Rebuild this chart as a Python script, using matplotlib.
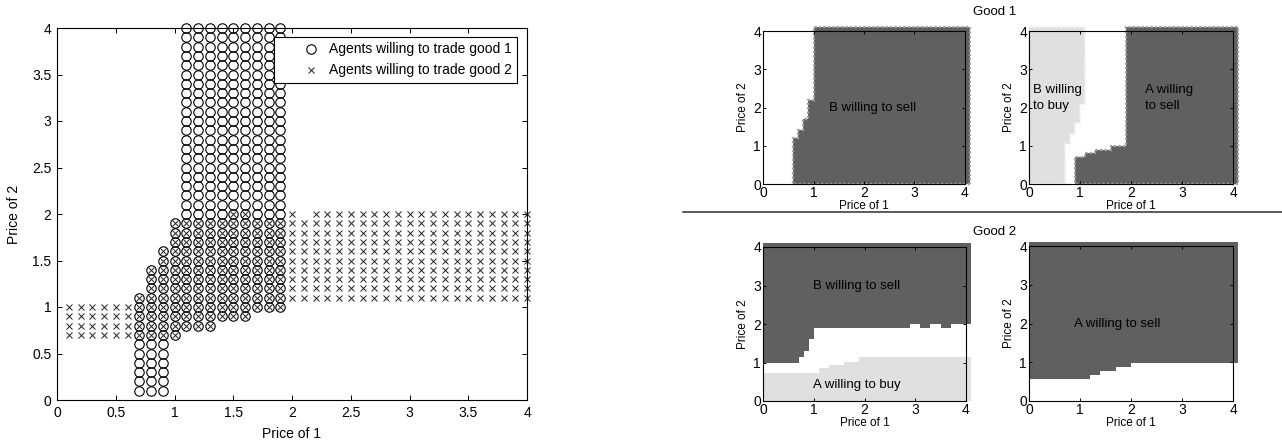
import numpy as np
import matplotlib.pyplot as plt
from matplotlib.lines import Line2D

plt.rcParams['font.family'] = ['Liberation Sans', 'DejaVu Sans']

# ---- left panel: agents willing to trade (one column per price of 1) ----
g1_x = [0.7, 0.8, 0.9, 1.0, 1.1, 1.2, 1.3, 1.4, 1.5, 1.6, 1.7, 1.8, 1.9]
g1_lo = [0.1, 0.1, 0.1, 0.7, 0.8, 0.8, 0.8, 0.9, 0.9, 0.9, 1.0, 1.0, 1.0]
g1_hi = [1.1, 1.4, 1.6, 1.9, 4.0, 4.0, 4.0, 4.0, 4.0, 4.0, 4.0, 4.0, 4.0]

g2_x = [0.1, 0.2, 0.3, 0.4, 0.5, 0.6, 0.7, 0.8, 0.9, 1.0,
        1.1, 1.2, 1.3, 1.4, 1.5, 1.6, 1.7, 1.8, 1.9, 2.0,
        2.1, 2.2, 2.3, 2.4, 2.5, 2.6, 2.7, 2.8, 2.9, 3.0,
        3.1, 3.2, 3.3, 3.4, 3.5, 3.6, 3.7, 3.8, 3.9, 4.0]
g2_lo = [0.7] * 10 + [0.8] * 3 + [0.9] * 3 + [1.0] * 3 + [1.1] * 21
g2_hi = [1.0] * 6 + [1.1, 1.4, 1.6, 1.9] + [1.9] * 4 + [2.0, 2.0] + [1.9] * 3 + [2.0, 1.9] + [2.0] * 19

left_ticks = [0, 0.5, 1, 1.5, 2, 2.5, 3, 3.5, 4]
left_ticklabels = ['0', '0.5', '1', '1.5', '2', '2.5', '3', '3.5', '4']

# ---- right panels: step boundaries of the regions ----
# Good 1, B willing to sell: left edge for each band of price 2
g1B_sell_y = [0, 1.2, 1.4, 1.7, 2.2, 4.1]
g1B_sell_x = [0.6, 0.7, 0.8, 0.9, 1.0]
# Good 1, B willing to buy: right edge
g1B_buy_y = [0, 1.05, 1.3, 1.6, 2.1, 4.1]
g1B_buy_x = [0.7, 0.8, 0.9, 1.0, 1.1]
# Good 1, A willing to sell: left edge
g1A_sell_y = [0, 0.7, 0.8, 0.9, 1.0, 4.1]
g1A_sell_x = [0.9, 1.1, 1.3, 1.6, 1.9]
# Good 2, B willing to sell: lower edge for each band of price 1
g2B_sell_x = [0, 0.7, 0.8, 0.9, 1.0, 2.9, 3.1, 3.3, 3.5, 3.7, 4.1]
g2B_sell_y = [1.0, 1.15, 1.3, 1.6, 1.9, 2.0, 1.9, 2.0, 1.9, 2.0]
# Good 2, A willing to buy: upper edge
g2A_buy_x = [0, 1.1, 1.3, 1.6, 1.9, 4.1]
g2A_buy_y = [0.73, 0.85, 0.93, 1.02, 1.13]
# Good 2, A willing to sell: lower edge
g2A_sell_x = [0, 1.2, 1.4, 1.7, 2.0, 4.1]
g2A_sell_y = [0.58, 0.67, 0.78, 0.87, 0.99]

DARK = '#606060'
LIGHT = '#e0e0e0'


def expand(xs, lo, hi):
    px, py = [], []
    for x, a, b in zip(xs, lo, hi):
        n = int(round((b - a) / 0.1)) + 1
        for k in range(n):
            px.append(x)
            py.append(round(a + 0.1 * k, 1))
    return px, py


def right_of(ys, xs, xmax=4.1):
    vx, vy = [xmax], [ys[0]]
    for i, x in enumerate(xs):
        vx += [x, x]
        vy += [ys[i], ys[i + 1]]
    vx.append(xmax)
    vy.append(ys[-1])
    return vx, vy


def left_of(ys, xs, xmin=0):
    vx, vy = [xmin], [ys[0]]
    for i, x in enumerate(xs):
        vx += [x, x]
        vy += [ys[i], ys[i + 1]]
    vx.append(xmin)
    vy.append(ys[-1])
    return vx, vy


def above(xs, ys, ytop=4.1):
    vx, vy = [xs[0]], [ytop]
    for i, y in enumerate(ys):
        vx += [xs[i], xs[i + 1]]
        vy += [y, y]
    vx.append(xs[-1])
    vy.append(ytop)
    return vx, vy


def below(xs, ys, ybot=0):
    vx, vy = [xs[0]], [ybot]
    for i, y in enumerate(ys):
        vx += [xs[i], xs[i + 1]]
        vy += [y, y]
    vx.append(xs[-1])
    vy.append(ybot)
    return vx, vy


W, H = 1282, 442
fig = plt.figure(figsize=(W / 100, H / 100), dpi=100)


def px_axes(l, t, r, b):
    return fig.add_axes([l / W, 1 - b / H, (r - l) / W, (b - t) / H])


# ---------------- left panel ----------------
ax = px_axes(57, 28, 527, 400)
cx, cy = expand(g1_x, g1_lo, g1_hi)
xx, xy = expand(g2_x, g2_lo, g2_hi)
ax.plot(cx, cy, 'o', ms=6.8, mfc='none', mec='black', mew=0.8, clip_on=False,
        label='Agents willing to trade good 1')
ax.plot(xx, xy, 'x', ms=3.8, mec='#202020', mew=0.7, clip_on=False,
        label='Agents willing to trade good 2')
ax.set_xlim(0, 4)
ax.set_ylim(0, 4)
ax.set_xticks(left_ticks)
ax.set_xticklabels(left_ticklabels)
ax.set_yticks(left_ticks)
ax.set_yticklabels(left_ticklabels)
ax.tick_params(direction='in', length=3.5, width=0.7, top=True, right=True,
               labelsize=10, pad=4)
for s in ax.spines.values():
    s.set_linewidth(0.8)
ax.set_xlabel('Price of 1', fontsize=10)
ax.set_ylabel('Price of 2', fontsize=10)
ax.xaxis.set_label_coords(0.5, -0.072)
ax.yaxis.set_label_coords(-0.077, 0.5)
leg = ax.legend(loc='upper right', bbox_to_anchor=(0.979, 0.976), borderaxespad=0,
                fontsize=10, fancybox=False, framealpha=1, edgecolor='black',
                handlelength=4.6, handletextpad=-1.05, borderpad=0.4,
                labelspacing=0.5, numpoints=1)
leg.get_frame().set_linewidth(0.8)


def small_axes(l, t, r, b):
    a = px_axes(l, t, r, b)
    a.set_xlim(0, 4)
    a.set_ylim(0, 4)
    a.set_xticks([0, 1, 2, 3, 4])
    a.set_yticks([0, 1, 2, 3, 4])
    a.tick_params(direction='in', length=2.5, width=0.7, top=True, right=True,
                  labelsize=10, pad=1.5)
    for s in a.spines.values():
        s.set_linewidth(0.8)
    a.set_xlabel('Price of 1', fontsize=8.5)
    a.set_ylabel('Price of 2', fontsize=8.5)
    a.xaxis.set_label_coords(0.5, -0.105)
    a.yaxis.set_label_coords(-0.07, 0.5)
    return a


def jag_fill(a, vx, vy, color, edge):
    a.fill(vx, vy, facecolor=color, edgecolor=edge, linewidth=1.6,
           linestyle=(0, (1, 1)), clip_on=False, zorder=1)


# ---------------- Good 1 ----------------
a1 = small_axes(763, 31, 965, 184)
vx, vy = right_of(g1B_sell_y, g1B_sell_x)
jag_fill(a1, vx, vy, DARK, '#a0a0a0')
a1.text(1.3, 2.0, 'B willing to sell', fontsize=9.5, va='center')

a2 = small_axes(1029, 31, 1233, 184)
vx, vy = left_of(g1B_buy_y, g1B_buy_x)
jag_fill(a2, vx, vy, LIGHT, '#f0f0f0')
vx, vy = right_of(g1A_sell_y, g1A_sell_x)
jag_fill(a2, vx, vy, DARK, '#a0a0a0')
a2.text(0.07, 2.25, 'B willing\nto buy', fontsize=9.5, va='center', linespacing=1.35)
a2.text(2.27, 2.25, 'A willing\nto sell', fontsize=9.5, va='center', linespacing=1.35)

# ---------------- Good 2 ----------------
a3 = small_axes(763, 247, 966, 401)
vx, vy = above(g2B_sell_x, g2B_sell_y)
a3.fill(vx, vy, color=DARK, lw=0, clip_on=False, zorder=1)
vx, vy = below(g2A_buy_x, g2A_buy_y)
a3.fill(vx, vy, color=LIGHT, lw=0, clip_on=False, zorder=1)
a3.text(0.98, 3.0, 'B willing to sell', fontsize=9.5, va='center')
a3.text(0.99, 0.41, 'A willing to buy', fontsize=9.5, va='center')

a4 = small_axes(1029, 246, 1233, 401)
vx, vy = above(g2A_sell_x, g2A_sell_y)
a4.fill(vx, vy, color=DARK, lw=0, clip_on=False, zorder=1)
a4.text(0.88, 2.0, 'A willing to sell', fontsize=9.5, va='center')

fig.text(973 / W, 1 - 12 / H, 'Good 1', fontsize=9.5, va='center')
fig.text(973 / W, 1 - 232 / H, 'Good 2', fontsize=9.5, va='center')
fig.add_artist(Line2D([683 / W, 1], [1 - 211.5 / H] * 2, color='#404040', lw=1.2))

fig.savefig('out.png', dpi=100)
